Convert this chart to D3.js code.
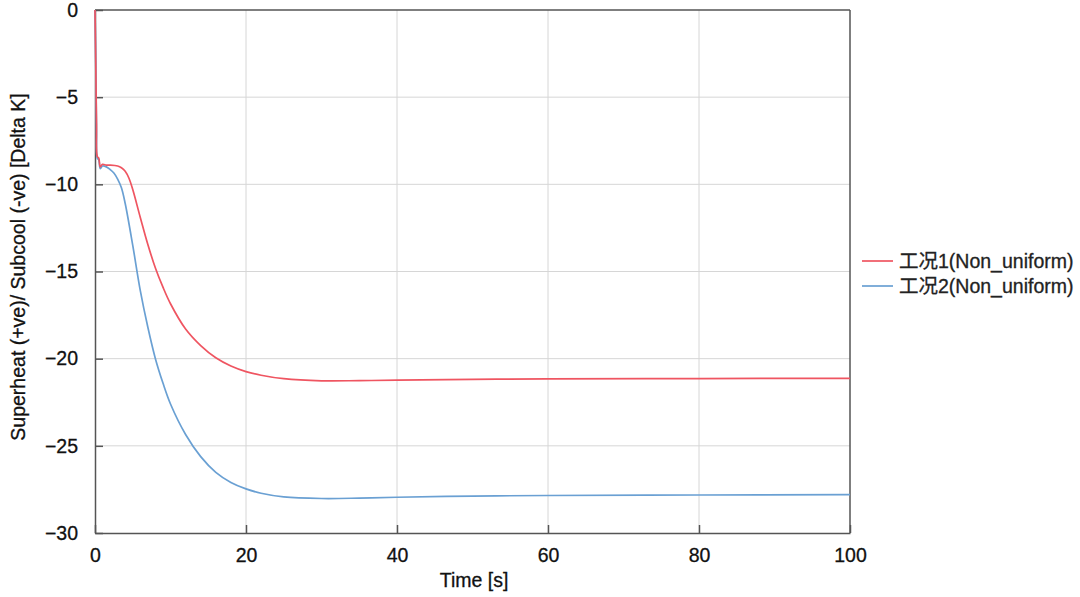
<!DOCTYPE html>
<html><head><meta charset="utf-8">
<script src="https://cdn.jsdelivr.net/npm/d3@7"></script>
<style>body{margin:0;background:#fff;} text{font-family:"Liberation Sans",Arial,"Noto Sans CJK SC",sans-serif;}</style>
</head><body>
<svg id="c" width="1080" height="597"></svg>
<script>
const seriesNames = ["工况1(Non_uniform)", "工况2(Non_uniform)"];
const seriesColors = ["#ef5561", "#6aa0d3"];
const xTicks = [0, 20, 40, 60, 80, 100];
const yTicks = [0, -5, -10, -15, -20, -25, -30];
const time1 = [0,0.1,0.2,0.3,0.5,0.7,1.0,1.5,2.0,3.0,3.5,4.0,4.5,5.0,6.0,7.0,8.0,9.0,10,12,14,16,18,20,22,25,30,35,40,50,60,80,100];
const case1 = [0,-3,-6.5,-8.4,-8.5,-9.0,-8.85,-8.9,-8.9,-8.95,-9.05,-9.25,-9.65,-10.3,-11.9,-13.45,-14.8,-15.9,-16.85,-18.3,-19.25,-19.95,-20.42,-20.74,-20.95,-21.15,-21.27,-21.26,-21.23,-21.19,-21.16,-21.14,-21.13];
const time2 = [0,0.1,0.2,0.3,0.5,0.7,1.0,1.5,2.0,2.5,3.0,3.5,4.0,5.0,6.0,7.0,8.0,9.0,10,12,14,16,18,20,22,25,30,35,40,50,60,80,100];
const case2 = [0,-3,-7,-8.5,-8.6,-9.1,-8.95,-9.0,-9.15,-9.35,-9.7,-10.2,-11.1,-13.5,-16.1,-18.2,-20.0,-21.4,-22.6,-24.35,-25.62,-26.52,-27.1,-27.47,-27.72,-27.93,-28.02,-28.0,-27.95,-27.88,-27.85,-27.82,-27.8];

const svg = d3.select("#c");
const L=95, R=850, T=10, B=533;
const FS = 19.5;
const x = d3.scaleLinear().domain([0,100]).range([L,R]);
const y = d3.scaleLinear().domain([-30,0]).range([B,T]);

// grid
svg.append("g").selectAll("line").data(xTicks.slice(1,-1)).join("line")
  .attr("x1",d=>x(d)).attr("x2",d=>x(d)).attr("y1",T).attr("y2",B)
  .attr("stroke","#d6d6d6").attr("stroke-width",1);
svg.append("g").selectAll("line").data(yTicks.slice(1,-1)).join("line")
  .attr("x1",L).attr("x2",R).attr("y1",d=>y(d)).attr("y2",d=>y(d))
  .attr("stroke","#d6d6d6").attr("stroke-width",1);

// axes with inward ticks
const fmt = d => d<0 ? "\u2212"+Math.abs(d) : String(d);
const xAxis = svg.append("g").attr("transform",`translate(0,${B})`)
  .call(d3.axisBottom(x).tickValues(xTicks).tickSizeInner(-8).tickSizeOuter(0).tickPadding(15).tickFormat(fmt));
const yAxis = svg.append("g").attr("transform",`translate(${L},0)`)
  .call(d3.axisLeft(y).tickValues(yTicks).tickSizeInner(-8).tickSizeOuter(0).tickPadding(17).tickFormat(fmt));
[xAxis,yAxis].forEach(a=>{
  a.selectAll("path").attr("stroke","#555").attr("stroke-width",1.5);
  a.selectAll("line").attr("stroke","#555").attr("stroke-width",1.5);
  a.selectAll("text").attr("font-size",FS).attr("fill","#111")
    .attr("stroke","#111").attr("stroke-width",0.3)
    .style("font-family",'"Liberation Sans",Arial,sans-serif');
});
// top/right border
svg.append("line").attr("x1",L).attr("x2",R).attr("y1",T).attr("y2",T).attr("stroke","#555").attr("stroke-width",1.5);
svg.append("line").attr("x1",R).attr("x2",R).attr("y1",T).attr("y2",B).attr("stroke","#555").attr("stroke-width",1.5);

// lines
const line = d3.line().x(d=>x(d[0])).y(d=>y(d[1])).curve(d3.curveCatmullRom.alpha(0.5));
const data = [d3.zip(time1,case1), d3.zip(time2,case2)];
svg.append("g").selectAll("path").data([1,0]).join("path")
  .attr("d",i=>line(data[i])).attr("fill","none")
  .attr("stroke",i=>seriesColors[i]).attr("stroke-width",1.7);

// titles
svg.append("text").attr("x",474).attr("y",587).attr("text-anchor","middle")
  .attr("font-size",FS).attr("fill","#111").attr("stroke","#111").attr("stroke-width",0.3).text("Time [s]");
svg.append("text").attr("transform",`translate(25,267) rotate(-90)`).attr("text-anchor","middle")
  .attr("font-size",FS).attr("fill","#111").attr("stroke","#111").attr("stroke-width",0.3)
  .text("Superheat (+ve)/ Subcool (-ve) [Delta K]");

// legend
const lg = svg.append("g");
seriesNames.forEach((n,i)=>{
  const yy = 261 + i*25;
  lg.append("line").attr("x1",862).attr("x2",893).attr("y1",yy).attr("y2",yy)
    .attr("stroke",seriesColors[i]).attr("stroke-width",1.7);
  lg.append("text").attr("x",899).attr("y",yy+7).attr("font-size",FS).attr("fill","#222")
    .attr("stroke","#222").attr("stroke-width",0.3).text(n);
});
</script>
</body></html>
